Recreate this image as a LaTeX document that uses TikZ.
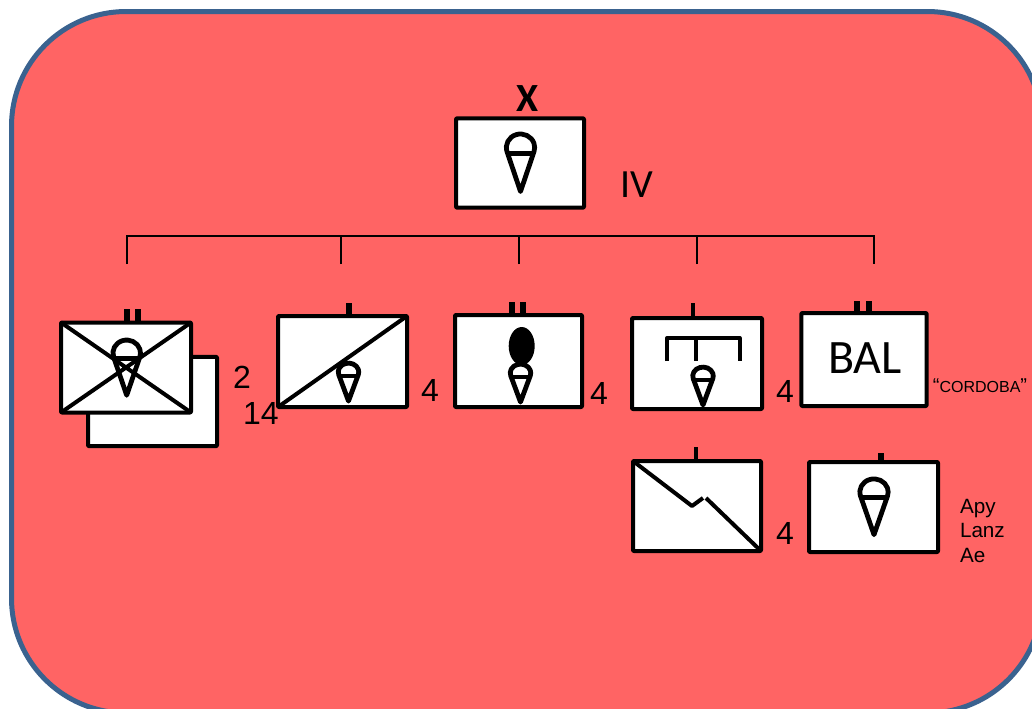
\documentclass[tikz,border=0pt]{standalone}
\usepackage{fontspec}
\setmainfont{Liberation Sans}
\newfontfamily\carl{Carlito}
\definecolor{panelred}{HTML}{FF6464}
\definecolor{panelblue}{HTML}{3A628F}
\tikzset{
  unit/.style={draw=black,fill=white,line width=3pt,rounded corners=0.6pt,line join=round,inner sep=0pt,outer sep=0pt},
  sym/.style={draw=black,line width=3.6pt,line cap=round,line join=round},
  echelon/.style={draw=black,line width=3.4pt},
  wideecho/.style={draw=black,line width=4pt},
  bus/.style={draw=black,line width=1.5pt},
  lab/.style={inner sep=0pt,outer sep=0pt,anchor=base,text=black},
  big/.style={lab,font=\fontsize{24}{24}\selectfont},
  cone/.pic={
    \draw[sym] (0,44) -- (-12.84,4.15) arc[start angle=197.9,end angle=-17.9,radius=10.125pt] -- cycle;
    \draw[sym,line cap=butt] (-12.6,6) -- (12.6,6);
  },
  largecone/.style={xscale=1.05},
  smallcone/.style={xscale=.76,yscale=.66}
}
\begin{document}
\begin{tikzpicture}[x=0.75pt,y=-0.75pt]
\useasboundingbox (0,0) rectangle (1032,708);
\clip (0,0) rectangle (1032,708);
\fill[white] (0,0) rectangle (1032,708);
\draw[fill=panelred,draw=panelblue,line width=3.75pt,rounded corners=86pt] (11.5,11.5) rectangle (1042,713);

% top unit
\node[unit,minimum width=96pt,minimum height=67pt] (hq) at (520,163) {};
\pic[largecone] at (520.5,147.5) {cone};
\node[lab,font=\carl\bfseries\fontsize{30}{30}\selectfont] (xmark) at (528,111) {X};
\node[lab,font=\carl\fontsize{30}{30}\selectfont] (iv) at (637,197) {IV};

% bus
\coordinate (bl) at (126.5,236);
\coordinate (br) at (874,236);
\coordinate (d1) at (126.5,264);
\coordinate (d2) at (341,264);
\coordinate (d3) at (519,264);
\coordinate (d4) at (697,264);
\coordinate (d5) at (874,264);
\draw[bus,line join=miter] (d1) -- (bl) -- (br) -- (d5);
\draw[bus] (d2) -- (d2 |- bl);
\draw[bus] (d3) -- (d3 |- bl);
\draw[bus] (d4) -- (d4 |- bl);

% unit A with shadow box
\node[unit,minimum width=96.75pt,minimum height=67pt] (a2) at (152.5,401.5) {};
\node[unit,minimum width=97.5pt,minimum height=67.5pt] (a) at (126,367.5) {};
\draw[sym,line width=3pt,line cap=butt] (a.north west) -- (a.south east) (a.south west) -- (a.north east);
\draw[wideecho] (127,322) -- (127,309) (138,322) -- (138,309);
\pic[xscale=1.02,yscale=.96] at (126.7,353) {cone};
\node[big] (n2) at (242,388) {2};
\node[big] (n14) at (261,424) {14};

% unit B
\node[unit,minimum width=96.75pt,minimum height=68.25pt] (b) at (342.5,361.5) {};
\draw[sym,line width=3pt,line cap=butt] (b.south west) -- (b.north east);
\draw[wideecho] (349,316) -- (349,303);
\pic[smallcone] at (348.5,372) {cone};
\node[big] (n4b) at (430,401) {4};

% unit C
\node[unit,minimum width=95.25pt,minimum height=69pt] (c) at (518.5,361) {};
\draw[wideecho] (512,315) -- (512,302) (523,315) -- (523,302);
\fill[black] (521.7,346) ellipse[x radius=9.75pt,y radius=14.25pt];
\pic[smallcone] at (520.5,373) {cone};
\node[big] (n4c) at (599,404) {4};

% unit D
\node[unit,minimum width=97.5pt,minimum height=68.25pt] (d) at (697,363.5) {};
\draw[echelon] (693,318) -- (693,303);
\draw[sym,line width=3pt,line cap=butt] (667,361) -- (667,338) -- (739.5,338) -- (739.5,361);
\draw[sym,line width=3pt,line cap=butt] (696,338) -- (696,361);
\pic[smallcone] at (703,376) {cone};
\node[big] (n4d) at (785,402) {4};

% unit E
\node[unit,minimum width=94pt,minimum height=69.75pt] (e) at (864,359.5) {};
\draw[wideecho] (857,313) -- (857,301) (869,313) -- (869,301);
\node[lab,font=\carl\fontsize{36}{36}\selectfont] (bal) at (865,373) {BAL};
\node[lab] (cordoba) at (980,392) {\fontsize{15}{15}\selectfont “\fontsize{12}{12}\selectfont CORDOBA\fontsize{15}{15}\selectfont ”};

% unit F
\node[unit,minimum width=96pt,minimum height=67.5pt] (f) at (697,506) {};
\draw[echelon] (696,461) -- (696,447);
\draw[sym,line width=3pt,line cap=butt] (f.north west) -- (692,506) -- (703,498);
\draw[sym,line width=3pt,line cap=butt] (706,498) -- (f.south east);
\node[big] (n4f) at (785,544) {4};

% unit G
\node[unit,minimum width=96.75pt,minimum height=67.5pt] (g) at (873.5,507) {};
\draw[wideecho] (881,462) -- (881,453);
\pic[xscale=1.05,yscale=.97] at (874,492) {cone};
\node[lab,font=\fontsize{15.5}{18.4}\selectfont,align=left,anchor=north west] (apy) at (960,499) {Apy\\Lanz\\Ae};
\end{tikzpicture}
\end{document}
